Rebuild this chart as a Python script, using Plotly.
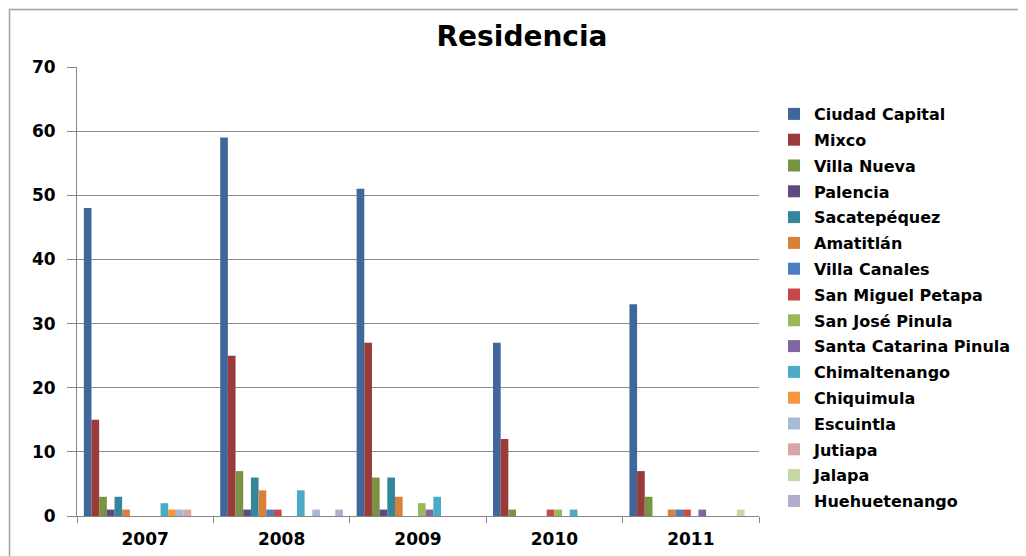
import plotly.graph_objects as go

years = ["2007", "2008", "2009", "2010", "2011"]
places = ["Ciudad Capital", "Mixco", "Villa Nueva", "Palencia", "Sacatepéquez",
          "Amatitlán", "Villa Canales", "San Miguel Petapa", "San José Pinula",
          "Santa Catarina Pinula", "Chimaltenango", "Chiquimula", "Escuintla",
          "Jutiapa", "Jalapa", "Huehuetenango"]

ciudad_capital = [48, 59, 51, 27, 33]
mixco = [15, 25, 27, 12, 7]
villa_nueva = [3, 7, 6, 1, 3]
palencia = [1, 1, 1, 0, 0]
sacatepequez = [3, 6, 6, 0, 0]
amatitlan = [1, 4, 3, 0, 1]
villa_canales = [0, 1, 0, 0, 1]
san_miguel_petapa = [0, 1, 0, 1, 1]
san_jose_pinula = [0, 0, 2, 1, 0]
santa_catarina_pinula = [0, 0, 1, 0, 1]
chimaltenango = [2, 4, 3, 1, 0]
chiquimula = [1, 0, 0, 0, 0]
escuintla = [1, 1, 0, 0, 0]
jutiapa = [1, 0, 0, 0, 0]
jalapa = [0, 0, 0, 0, 1]
huehuetenango = [0, 1, 0, 0, 0]

series = [ciudad_capital, mixco, villa_nueva, palencia, sacatepequez, amatitlan,
          villa_canales, san_miguel_petapa, san_jose_pinula, santa_catarina_pinula,
          chimaltenango, chiquimula, escuintla, jutiapa, jalapa, huehuetenango]

colors = ["#3F679A", "#9A3B3A", "#789343", "#5E4A7D", "#33879D", "#D8813B",
          "#4C7DBE", "#C7484A", "#98B955", "#7F66A3", "#4BABC6", "#F5963F",
          "#A8B9D8", "#D8A6A6", "#C5D8A6", "#B4ACCB"]

fig = go.Figure()
for name, vals, col in zip(places, series, colors):
    fig.add_trace(go.Bar(x=years, y=vals, name=name, marker_color=col,
                         marker_line_width=0, legendgroup=name))

# The page adds an 8px body margin; offsets below compensate for it.
OFF = 8
font_family = "DejaVu Sans"
fig.update_layout(
    width=1026, height=556,
    paper_bgcolor="white", plot_bgcolor="white",
    margin=dict(l=77 - OFF, r=267 + OFF, t=67 - OFF, b=40 + OFF),
    barmode="group", bargap=0.1, bargroupgap=0,
    title=dict(text="<b>Residencia</b>", x=(522 - OFF) / 1026, xanchor="center",
               y=1 - (36 - OFF) / 556, yanchor="middle",
               font=dict(family=font_family, size=28, color="#000000")),
    font=dict(family=font_family, color="#000000"),
    legend=dict(x=1.022, y=(516 - 97) / 449, xanchor="left", yanchor="top",
                font=dict(family=font_family, size=16, color="#000000", weight="bold"),
                tracegroupgap=2, traceorder="grouped", bgcolor="rgba(0,0,0,0)"),
    showlegend=True,
)
fig.update_xaxes(showline=True, linecolor="#868686", linewidth=1,
                 ticks="outside", tickson="boundaries", ticklen=6, tickcolor="#868686",
                 ticklabelstandoff=8,
                 tickfont=dict(family=font_family, size=17, color="#000000", weight="bold"),
                 showgrid=False)
fig.update_yaxes(range=[0, 70], dtick=10, showline=True, linecolor="#868686",
                 linewidth=1, ticks="outside", ticklen=9, tickcolor="#868686",
                 ticklabelstandoff=8,
                 gridcolor="#8C8C8C", gridwidth=1, zeroline=False,
                 tickfont=dict(family=font_family, size=17, color="#000000", weight="bold"))

fig.add_shape(type="rect", xref="paper", yref="paper",
              x0=(9.5 - 77) / 682, x1=(1040 - 77) / 682, y0=(516 - 570) / 449, y1=(516 - 9.5) / 449,
              line=dict(color="#A0A0A0", width=1.5), fillcolor="rgba(0,0,0,0)",
              layer="below")

fig.write_html("out.html")
